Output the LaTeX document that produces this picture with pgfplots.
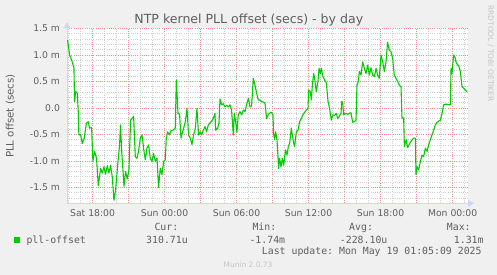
\documentclass[border=0pt]{standalone}
\usepackage{pgfplots}
\pgfplotsset{compat=1.18}
\usetikzlibrary{arrows.meta}
\usepackage{fontspec}
\setmainfont{DejaVu Sans}
\setmonofont{DejaVu Sans Mono}
\definecolor{bgcol}{HTML}{F0F0F0}
\definecolor{fontcol}{HTML}{5E5E5E}
\definecolor{axisblue}{HTML}{CFD6F8}
\definecolor{mgrid}{HTML}{EE9090}
\definecolor{ngrid}{HTML}{CFCFCF}
\definecolor{linegreen}{HTML}{00CC00}
\definecolor{wmark}{HTML}{C4C4C4}
\begin{document}
\begin{tikzpicture}
\path[use as bounding box, fill=bgcol] (0,0) rectangle (497bp,-275bp);
\begin{axis}[
  at={(67bp,-203.3bp)}, anchor=south west,
  scale only axis, width=401bp, height=175bp,
  xmin=15.87, xmax=49.28, ymin=-1.80, ymax=1.504,
  axis background/.style={fill=white},
  axis x line=bottom, axis y line=left,
  axis line style={draw=axisblue, line width=1bp, shorten >=-6bp, -{Triangle[length=6bp,width=7bp]}},
  xtick={18,21,24,27,30,33,36,39,42,45,48},
  xticklabels={Sat 18:00,,Sun 00:00,,Sun 06:00,,Sun 12:00,,Sun 18:00,,Mon 00:00},
  minor xtick={16,17,19,20,22,23,25,26,28,29,31,32,34,35,37,38,40,41,43,44,46,47,49},
  ytick={-1.5,-1,-0.5,0,0.5,1,1.5},
  yticklabels={-1.5 m,-1.0 m,-0.5 m,0.0,0.5 m,1.0 m,1.5 m},
  minor ytick={-1.7,-1.6,-1.4,-1.3,-1.2,-1.1,-0.9,-0.8,-0.7,-0.6,-0.4,-0.3,-0.2,-0.1,0.1,0.2,0.3,0.4,0.6,0.7,0.8,0.9,1.1,1.2,1.3,1.4},
  major tick length=0pt, minor tick length=0pt,
  grid=both,
  major grid style={draw=mgrid, line width=0.8bp, dash pattern=on 1bp off 1.2bp},
  minor grid style={draw=ngrid, line width=0.8bp, dash pattern=on 1bp off 1.2bp},
  tick label style={font=\fontsize{9.3}{11}\selectfont, text=fontcol},
  yticklabel style={anchor=east, xshift=-3.5bp},
  xticklabel style={anchor=north, yshift=-2.5bp},
]
\addplot[linegreen, line width=1.1bp, line join=round] coordinates {
(15.92,1.28) (16.09,1.00) (16.31,0.87) (16.45,0.75) (16.50,0.12) (16.59,0.31)
(16.73,0.28) (16.81,-0.07) (16.86,-0.51) (17.00,-0.50) (17.14,-0.67) (17.31,-0.57)
(17.48,-0.29) (17.64,-0.26) (17.75,-0.38) (17.92,-0.37) (18.03,-1.00) (18.17,-0.82)
(18.33,-0.95) (18.48,-1.47) (18.67,-1.14) (18.81,-1.23) (18.95,-1.11) (19.08,-1.25)
(19.23,-1.09) (19.37,-1.23) (19.50,-1.08) (19.64,-1.30) (19.78,-1.74) (19.92,-1.55)
(20.08,-1.11) (20.25,-0.70) (20.33,-0.32) (20.42,-0.79) (20.62,-1.48) (20.75,-1.20)
(20.89,-1.34) (21.03,-1.17) (21.17,-0.23) (21.30,-0.19) (21.42,-0.16) (21.56,-0.92)
(21.70,-0.95) (21.83,-0.82) (21.98,-0.57) (22.12,-0.51) (22.25,-0.76) (22.39,-0.98)
(22.53,-0.76) (22.67,-0.70) (22.81,-0.95) (22.95,-1.01) (23.08,-0.86) (23.23,-1.01)
(23.37,-0.95) (23.50,-1.50) (23.64,-1.14) (23.78,-1.26) (23.92,-1.01) (24.06,-0.98)
(24.14,-0.57) (24.25,-0.45) (24.42,-0.51) (24.53,-0.43) (24.70,-0.42) (24.89,-0.38)
(24.98,0.53) (25.12,-0.10) (25.25,-0.12) (25.37,-0.57) (25.53,-0.43) (25.73,-0.26)
(25.87,-0.01) (26.00,-0.51) (26.14,-0.57) (26.28,-0.69) (26.42,-0.51) (26.56,-0.38)
(26.70,-0.01) (26.83,-0.51) (26.98,-0.45) (27.08,-0.51) (27.23,-0.42) (27.37,-0.35)
(27.50,-0.45) (27.64,-0.32) (27.87,-0.26) (28.06,-0.20) (28.20,-0.10) (28.25,-0.42)
(28.42,-0.38) (28.53,-0.29) (28.62,0.17) (28.75,0.06) (28.89,0.08) (29.03,0.02)
(29.17,0.05) (29.31,0.02) (29.45,0.06) (29.58,-0.04) (29.73,-0.51) (29.81,-0.10)
(29.92,-0.26) (30.03,-0.46) (30.14,-0.13) (30.28,-0.07) (30.42,-0.13) (30.56,-0.04)
(30.70,-0.07) (30.83,0.06) (30.98,0.18) (31.12,0.02) (31.25,0.04) (31.39,0.56)
(31.53,0.43) (31.67,0.28) (31.81,0.15) (31.95,0.15) (32.08,0.12) (32.23,0.11)
(32.37,0.09) (32.50,-0.20) (32.64,-0.12) (32.75,-0.10) (32.89,-0.08) (33.03,-0.13)
(33.08,-0.48) (33.17,-0.60) (33.25,-0.45) (33.37,-0.60) (33.50,-1.14) (33.58,-0.95)
(33.70,-1.11) (33.81,-0.95) (33.92,-1.08) (34.08,-0.79) (34.20,-0.89) (34.31,-0.73)
(34.42,-0.67) (34.56,-0.38) (34.70,-0.60) (34.83,-0.73) (34.98,-0.45) (35.12,-0.42)
(35.25,-0.26) (35.39,-0.20) (35.53,-0.13) (35.67,-0.08) (35.81,-0.04) (35.95,-0.01)
(36.00,0.34) (36.14,0.31) (36.23,0.15) (36.31,0.43) (36.42,0.65) (36.50,0.56)
(36.64,0.31) (36.78,0.50) (36.87,0.75) (36.98,0.65) (37.06,0.75) (37.20,0.59)
(37.33,0.53) (37.48,0.47) (37.62,0.12) (37.75,-0.01) (37.89,-0.23) (38.03,-0.13)
(38.17,-0.14) (38.31,-0.10) (38.42,-0.20) (38.56,-0.16) (38.70,-0.10) (38.75,0.12)
(38.83,0.11) (38.92,-0.13) (39.12,-0.10) (39.25,-0.12) (39.39,-0.10) (39.53,-0.09)
(39.67,-0.27) (39.81,-0.26) (39.95,-0.23) (40.03,0.43) (40.14,0.50) (40.23,0.69)
(40.37,0.62) (40.50,0.87) (40.64,0.75) (40.78,0.65) (40.92,0.81) (41.06,0.62)
(41.20,0.76) (41.33,0.62) (41.48,0.59) (41.62,0.75) (41.75,0.62) (41.89,0.56)
(42.03,1.00) (42.17,0.87) (42.31,0.69) (42.45,0.87) (42.58,1.24) (42.72,1.09)
(42.87,1.06) (43.00,0.94) (43.14,0.62) (43.28,0.56) (43.42,0.50) (43.56,0.43)
(43.70,0.40) (43.78,-0.19) (43.92,-0.19) (43.98,-0.73) (44.12,-0.60) (44.25,-0.75)
(44.42,-0.67) (44.62,-0.60) (44.75,-0.57) (44.89,-0.57) (44.95,-1.26) (45.03,-1.11)
(45.17,-1.17) (45.31,-1.01) (45.45,-0.89) (45.58,-0.92) (45.73,-0.76) (45.87,-0.82)
(46.00,-0.70) (46.14,-0.60) (46.28,-0.51) (46.42,-0.42) (46.56,-0.32) (46.70,-0.27)
(46.83,-0.25) (46.98,-0.23) (47.12,-0.10) (47.25,0.06) (47.39,0.07) (47.53,0.07)
(47.67,0.06) (47.81,0.06) (47.87,0.75) (47.95,0.65) (48.08,1.00) (48.22,0.94)
(48.31,0.84) (48.42,0.82) (48.53,0.78) (48.64,0.69) (48.78,0.40) (48.92,0.37)
(49.06,0.34) (49.20,0.31)
};
\end{axis}
% title
\node[anchor=base, text=fontcol, font=\fontsize{12.6}{14}\selectfont, inner sep=0pt] at (248.8bp,-23.5bp) {NTP kernel PLL offset (secs) - by day};
% y label
\node[rotate=90, text=fontcol, font=\fontsize{10.3}{12}\selectfont, inner sep=0pt] at (10.5bp,-116bp) {PLL offset (secs)};
% watermark
\node[rotate=-90, text=wmark, font=\fontsize{7.5}{9}\selectfont, inner sep=0pt] at (490.5bp,-53.5bp) {RRDTOOL / TOBI OETIKER};
% legend
\fill[linegreen] (13.7bp,-237.3bp) rectangle (19.7bp,-243.3bp);
\begin{scope}[every node/.style={anchor=base west, inner sep=0pt, text=fontcol, font=\ttfamily\fontsize{9.9}{12}\selectfont}]
\node at (26.3bp,-243bp) {pll-offset};
\node at (154.3bp,-230.5bp) {Cur:};
\node at (146bp,-243bp) {310.71u};
\node at (252.3bp,-230.5bp) {Min:};
\node at (249.3bp,-243bp) {-1.74m};
\node at (349bp,-230.5bp) {Avg:};
\node at (339.7bp,-243bp) {-228.10u};
\node at (446.7bp,-230.5bp) {Max:};
\node at (453.7bp,-243bp) {1.31m};
\node at (261.7bp,-254.5bp) {Last update: Mon May 19 01:05:09 2025};
\end{scope}
\node[anchor=base, inner sep=0pt, text=wmark, font=\fontsize{7.5}{9}\selectfont] at (248bp,-267bp) {Munin 2.0.73};
\end{tikzpicture}
\end{document}
